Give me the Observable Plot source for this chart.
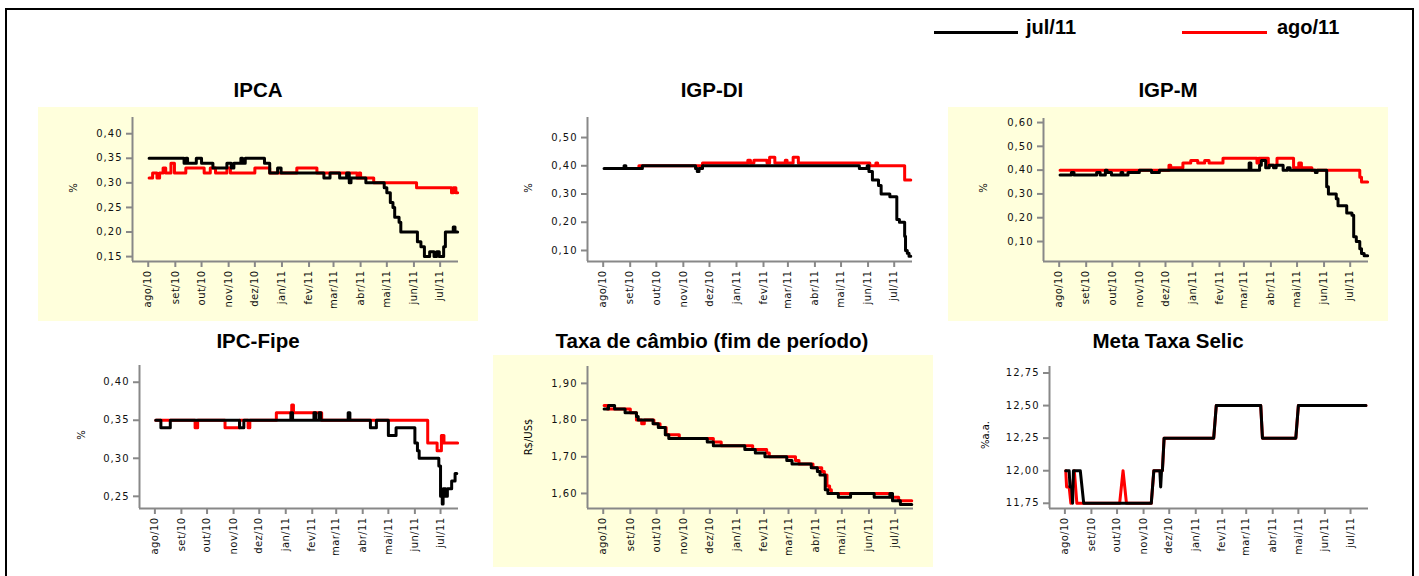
<!DOCTYPE html>
<html>
<head>
<meta charset="utf-8">
<script src="https://cdn.jsdelivr.net/npm/d3@7"></script>
<script src="https://cdn.jsdelivr.net/npm/@observablehq/plot@0.6"></script>
<style>
  body { margin: 0; background: #fff; }
  #page { position: relative; width: 1419px; height: 576px; overflow: hidden; font-family: "Liberation Sans", Arial, sans-serif; }
  #frame { position: absolute; left: 5px; top: 8px; width: 1409px; height: 620px; border: 2.5px solid #000; box-sizing: border-box; }
  .bg { position: absolute; background: #ffffdc; }
  .title { position: absolute; font-weight: bold; font-size: 20.5px; line-height: 20.5px; transform: translateX(-50%); white-space: nowrap; color: #000; }
  .ylab { position: absolute; font-family: "DejaVu Sans", sans-serif; font-size: 10px; color: #000; white-space: nowrap; transform: translate(-50%, -50%) rotate(-90deg); }
  .leg-line { position: absolute; height: 2.5px; }
  .leg-text { position: absolute; font-weight: bold; font-size: 20px; line-height: 20px; white-space: nowrap; color: #000; }
  svg [aria-label="y-axis tick label"] { letter-spacing: 1px; }
  svg [aria-label="x-axis tick label"] { letter-spacing: 0.4px; }
</style>
</head>
<body>
<div id="page">
  <div id="frame"></div>
</div>
<script>
// ---------- data ----------
const monthNames = ["jan","fev","mar","abr","mai","jun","jul","ago","set","out","nov","dez"];
const monthTicks = ["2010-08-01","2010-09-01","2010-10-01","2010-11-01","2010-12-01","2011-01-01","2011-02-01","2011-03-01","2011-04-01","2011-05-01","2011-06-01","2011-07-01"];
const xDomain = ["2010-07-14","2011-07-22"];
const seriesNames = ["jul/11","ago/11"];

const ipcaTicks = [0.15,0.20,0.25,0.30,0.35,0.40];
const igpdiTicks = [0.10,0.20,0.30,0.40,0.50];
const igpmTicks = [0.10,0.20,0.30,0.40,0.50,0.60];
const ipcfTicks = [0.25,0.30,0.35,0.40];
const fxTicks = [1.60,1.70,1.80,1.90];
const selicTicks = [11.75,12.00,12.25,12.50,12.75];

const ipcaJul = [["2010-08-02",0.35],["2010-09-11",0.34],["2010-09-13",0.35],["2010-09-15",0.34],["2010-09-25",0.35],["2010-10-01",0.34],["2010-10-14",0.33],["2010-10-30",0.34],["2010-11-04",0.33],["2010-11-07",0.34],["2010-11-15",0.35],["2010-11-17",0.34],["2010-11-20",0.35],["2010-12-12",0.34],["2010-12-18",0.32],["2010-12-27",0.33],["2010-12-31",0.32],["2011-02-18",0.31],["2011-02-25",0.32],["2011-03-08",0.31],["2011-03-16",0.32],["2011-03-19",0.30],["2011-03-21",0.31],["2011-04-07",0.30],["2011-04-28",0.29],["2011-05-01",0.28],["2011-05-05",0.26],["2011-05-08",0.25],["2011-05-10",0.23],["2011-05-15",0.22],["2011-05-17",0.20],["2011-06-05",0.18],["2011-06-09",0.17],["2011-06-13",0.15],["2011-06-19",0.16],["2011-06-24",0.15],["2011-06-27",0.16],["2011-06-30",0.15],["2011-07-05",0.17],["2011-07-07",0.20],["2011-07-16",0.21],["2011-07-18",0.20],["2011-07-21",0.20]];
const ipcaAgo = [["2010-08-02",0.31],["2010-08-06",0.32],["2010-08-11",0.31],["2010-08-14",0.32],["2010-08-18",0.33],["2010-08-21",0.32],["2010-08-27",0.34],["2010-08-31",0.32],["2010-09-13",0.33],["2010-10-04",0.32],["2010-10-11",0.33],["2010-10-17",0.32],["2010-10-30",0.33],["2010-11-03",0.32],["2010-12-01",0.33],["2010-12-18",0.32],["2011-01-18",0.33],["2011-02-10",0.32],["2011-03-28",0.31],["2011-03-30",0.32],["2011-04-01",0.31],["2011-04-16",0.30],["2011-06-04",0.29],["2011-07-14",0.28],["2011-07-16",0.29],["2011-07-19",0.28],["2011-07-21",0.28]];

const igpdiJul = [["2010-08-02",0.39],["2010-08-25",0.40],["2010-08-27",0.39],["2010-09-15",0.40],["2010-11-15",0.39],["2010-11-17",0.38],["2010-11-19",0.39],["2010-11-23",0.40],["2011-05-22",0.39],["2011-05-31",0.40],["2011-06-02",0.38],["2011-06-06",0.35],["2011-06-13",0.33],["2011-06-16",0.30],["2011-06-26",0.29],["2011-07-04",0.21],["2011-07-07",0.20],["2011-07-13",0.15],["2011-07-14",0.10],["2011-07-16",0.09],["2011-07-18",0.08],["2011-07-20",0.08]];
const igpdiAgo = [["2010-08-25",0.39],["2010-09-11",0.40],["2010-11-23",0.41],["2011-01-14",0.42],["2011-01-17",0.41],["2011-01-21",0.42],["2011-02-05",0.41],["2011-02-08",0.43],["2011-02-14",0.41],["2011-02-26",0.42],["2011-02-28",0.41],["2011-03-07",0.43],["2011-03-13",0.41],["2011-06-03",0.40],["2011-06-10",0.41],["2011-06-12",0.40],["2011-07-13",0.35],["2011-07-20",0.35]];

const igpmJul = [["2010-08-02",0.38],["2010-08-15",0.39],["2010-08-18",0.38],["2010-09-13",0.39],["2010-09-17",0.38],["2010-09-23",0.40],["2010-09-25",0.39],["2010-09-30",0.38],["2010-10-11",0.39],["2010-10-13",0.38],["2010-10-19",0.39],["2010-11-01",0.40],["2010-11-15",0.39],["2010-11-24",0.40],["2011-03-07",0.43],["2011-03-09",0.40],["2011-03-19",0.42],["2011-03-21",0.44],["2011-03-26",0.41],["2011-03-30",0.42],["2011-04-04",0.41],["2011-04-07",0.42],["2011-04-15",0.40],["2011-04-20",0.41],["2011-04-23",0.40],["2011-05-22",0.39],["2011-05-24",0.40],["2011-06-04",0.33],["2011-06-06",0.30],["2011-06-15",0.28],["2011-06-17",0.25],["2011-06-27",0.22],["2011-07-03",0.21],["2011-07-05",0.12],["2011-07-08",0.10],["2011-07-12",0.07],["2011-07-14",0.05],["2011-07-17",0.04],["2011-07-21",0.04]];
const igpmAgo = [["2010-08-02",0.40],["2010-12-05",0.42],["2010-12-07",0.41],["2010-12-21",0.43],["2010-12-30",0.44],["2011-01-07",0.43],["2011-01-15",0.44],["2011-01-20",0.43],["2011-02-05",0.45],["2011-03-16",0.43],["2011-03-18",0.45],["2011-03-29",0.42],["2011-04-08",0.45],["2011-04-27",0.41],["2011-05-03",0.43],["2011-05-06",0.41],["2011-05-18",0.40],["2011-07-12",0.37],["2011-07-14",0.35],["2011-07-21",0.35]];

const ipcfJul = [["2010-08-02",0.35],["2010-08-08",0.34],["2010-08-19",0.35],["2010-11-08",0.34],["2010-11-13",0.35],["2011-01-07",0.36],["2011-01-09",0.35],["2011-02-03",0.36],["2011-02-05",0.35],["2011-02-09",0.36],["2011-02-11",0.35],["2011-03-15",0.36],["2011-03-17",0.35],["2011-04-10",0.34],["2011-04-17",0.35],["2011-05-01",0.33],["2011-05-10",0.34],["2011-06-01",0.32],["2011-06-04",0.31],["2011-06-06",0.30],["2011-06-29",0.29],["2011-07-01",0.25],["2011-07-03",0.24],["2011-07-04",0.26],["2011-07-07",0.25],["2011-07-09",0.26],["2011-07-14",0.27],["2011-07-18",0.28],["2011-07-20",0.28]];
const ipcfAgo = [["2010-08-02",0.35],["2010-09-17",0.34],["2010-09-20",0.35],["2010-10-22",0.34],["2010-11-08",0.35],["2010-11-18",0.34],["2010-11-20",0.35],["2010-12-21",0.36],["2011-01-08",0.37],["2011-01-10",0.36],["2011-02-12",0.35],["2011-06-16",0.32],["2011-06-27",0.31],["2011-07-02",0.33],["2011-07-05",0.32],["2011-07-21",0.32]];

const fxJul = [["2010-08-02",1.83],["2010-08-07",1.84],["2010-08-14",1.83],["2010-08-26",1.82],["2010-09-08",1.81],["2010-09-10",1.80],["2010-09-27",1.79],["2010-10-03",1.78],["2010-10-11",1.76],["2010-10-15",1.75],["2010-11-28",1.74],["2010-12-05",1.73],["2011-01-10",1.72],["2011-01-22",1.71],["2011-02-02",1.70],["2011-02-27",1.69],["2011-03-05",1.68],["2011-03-27",1.67],["2011-04-03",1.66],["2011-04-06",1.65],["2011-04-12",1.61],["2011-04-15",1.60],["2011-04-27",1.59],["2011-05-11",1.60],["2011-06-07",1.59],["2011-06-25",1.60],["2011-06-28",1.58],["2011-07-07",1.57],["2011-07-20",1.57]];
const fxAgo = [["2010-08-02",1.84],["2010-08-06",1.83],["2010-09-01",1.82],["2010-09-08",1.80],["2010-09-14",1.79],["2010-09-17",1.80],["2010-09-28",1.79],["2010-10-05",1.78],["2010-10-12",1.76],["2010-10-27",1.75],["2010-12-05",1.74],["2010-12-14",1.73],["2011-01-19",1.72],["2011-02-04",1.71],["2011-02-07",1.70],["2011-03-09",1.69],["2011-03-13",1.68],["2011-03-29",1.67],["2011-04-08",1.66],["2011-04-11",1.65],["2011-04-14",1.62],["2011-04-17",1.61],["2011-04-19",1.60],["2011-06-26",1.59],["2011-07-05",1.58],["2011-07-20",1.58]];

const selicJul = [["2010-08-02",12.00],["2010-08-06",12.00],["2010-08-07",11.875],["2010-08-09",11.875],["2010-08-10",11.75],["2010-08-11",12.00],["2010-08-19",12.00],["2010-08-23",11.75],["2010-11-10",11.75],["2010-11-13",12.00],["2010-11-20",12.00],["2010-11-21",11.875],["2010-11-22",12.00],["2010-11-23",12.00],["2010-11-25",12.25],["2011-01-22",12.25],["2011-01-25",12.50],["2011-03-18",12.50],["2011-03-20",12.25],["2011-04-28",12.25],["2011-05-01",12.50],["2011-07-19",12.50]];
const selicAgo = [["2010-08-02",12.00],["2010-08-03",11.875],["2010-08-06",11.875],["2010-08-08",11.75],["2010-08-12",12.00],["2010-08-15",11.75],["2010-10-04",11.75],["2010-10-06",11.875],["2010-10-08",12.00],["2010-10-10",11.875],["2010-10-12",11.75],["2010-11-10",11.75],["2010-11-13",12.00],["2010-11-23",12.00],["2010-11-25",12.25],["2011-01-22",12.25],["2011-01-25",12.50],["2011-03-18",12.50],["2011-03-20",12.25],["2011-04-28",12.25],["2011-05-01",12.50],["2011-07-19",12.50]];

// ---------- layout ----------
const panels = [
  {title: "IPCA", ylabel: "%", jul: ipcaJul, ago: ipcaAgo, yDomain: [0.14, 0.433], yTicks: ipcaTicks, curve: "step-after",
   axisL: 132, axisR: 458, axisT: 117, axisB: 261, bg: [38, 107, 478, 321], titleX: 258, titleTop: 80, labX: 73, labY: 188},
  {title: "IGP-DI", ylabel: "%", jul: igpdiJul, ago: igpdiAgo, yDomain: [0.061, 0.571], yTicks: igpdiTicks, curve: "step-after",
   axisL: 587, axisR: 912, axisT: 117, axisB: 261, bg: null, titleX: 712, titleTop: 80, labX: 528, labY: 188},
  {title: "IGP-M", ylabel: "%", jul: igpmJul, ago: igpmAgo, yDomain: [0.016, 0.617], yTicks: igpmTicks, curve: "step-after",
   axisL: 1043, axisR: 1368, axisT: 118, axisB: 261, bg: [948, 107, 1388, 321], titleX: 1168, titleTop: 80, labX: 983, labY: 188},
  {title: "IPC-Fipe", ylabel: "%", jul: ipcfJul, ago: ipcfAgo, yDomain: [0.234, 0.422], yTicks: ipcfTicks, curve: "step-after",
   axisL: 139, axisR: 458, axisT: 365, axisB: 508, bg: null, titleX: 258, titleTop: 331, labX: 81, labY: 435},
  {title: "Taxa de câmbio (fim de período)", ylabel: "R$/US$", jul: fxJul, ago: fxAgo, yDomain: [1.559, 1.946], yTicks: fxTicks, curve: "step-after",
   axisL: 587, axisR: 913, axisT: 366, axisB: 508, bg: [493, 355, 933, 567], titleX: 712, titleTop: 331, labX: 528, labY: 437},
  {title: "Meta Taxa Selic", ylabel: "%a.a.", jul: selicJul, ago: selicAgo, yDomain: [11.71, 12.80], yTicks: selicTicks, curve: "linear",
   axisL: 1049, axisR: 1368, axisT: 366, axisB: 508, bg: null, titleX: 1168, titleTop: 331, labX: 985, labY: 435}
];

const page = document.getElementById("page");
const fmtX = d => monthNames[d.getUTCMonth()] + "/" + String(d.getUTCFullYear()).slice(2);
const fmtY = d => d3.format(".2f")(d).replace(".", ",");
const parse = s => new Date(s + "T00:00:00Z");

function addDiv(cls, styles, text) {
  const el = document.createElement("div");
  el.className = cls;
  Object.assign(el.style, styles);
  if (text != null) el.textContent = text;
  page.appendChild(el);
  return el;
}

// backgrounds
for (const p of panels) {
  if (p.bg) addDiv("bg", {left: p.bg[0] + "px", top: p.bg[1] + "px", width: (p.bg[2] - p.bg[0]) + "px", height: (p.bg[3] - p.bg[1]) + "px"});
}

// legend
addDiv("leg-line", {left: "934px", top: "31px", width: "84px", background: "#000"});
addDiv("leg-text", {left: "1026px", top: "17px"}, seriesNames[0]);
addDiv("leg-line", {left: "1182px", top: "31px", width: "85px", background: "#ff0000"});
addDiv("leg-text", {left: "1277px", top: "17px"}, seriesNames[1]);

const mL = 70, mR = 15, mT = 10, mB = 50;
const xd = xDomain.map(parse);
const xt = monthTicks.map(parse);

for (const p of panels) {
  addDiv("title", {left: p.titleX + "px", top: p.titleTop + "px"}, p.title);
  const svg = Plot.plot({
    width: (p.axisR - p.axisL) + mL + mR,
    height: (p.axisB - p.axisT) + mT + mB,
    marginLeft: mL, marginRight: mR, marginTop: mT, marginBottom: mB,
    style: {background: "transparent", fontFamily: "DejaVu Sans, sans-serif", fontSize: "10px", color: "#111", overflow: "visible"},
    x: {type: "utc", domain: xd},
    y: {domain: p.yDomain},
    marks: [
      Plot.axisY({ticks: p.yTicks, tickFormat: fmtY, tickSize: 6, tickPadding: 4, stroke: "#888", strokeWidth: 2, fill: "#111", label: null}),
      Plot.axisX({ticks: xt, tickFormat: fmtX, tickRotate: -90, tickSize: 6, tickPadding: 3, stroke: "#888", strokeWidth: 2, fill: "#111", label: null}),
      Plot.ruleX([xd[0]], {stroke: "#888", strokeWidth: 2}),
      Plot.ruleY([p.yDomain[0]], {stroke: "#888", strokeWidth: 2}),
      Plot.line(p.ago, {x: d => parse(d[0]), y: d => d[1], stroke: "#ff0000", strokeWidth: 3, curve: p.curve}),
      Plot.line(p.jul, {x: d => parse(d[0]), y: d => d[1], stroke: "#000", strokeWidth: 3, curve: p.curve})
    ]
  });
  svg.style.position = "absolute";
  svg.style.left = (p.axisL - mL) + "px";
  svg.style.top = (p.axisT - mT) + "px";
  page.appendChild(svg);
  addDiv("ylab", {left: p.labX + "px", top: p.labY + "px"}, p.ylabel);
}
</script>
</body>
</html>
